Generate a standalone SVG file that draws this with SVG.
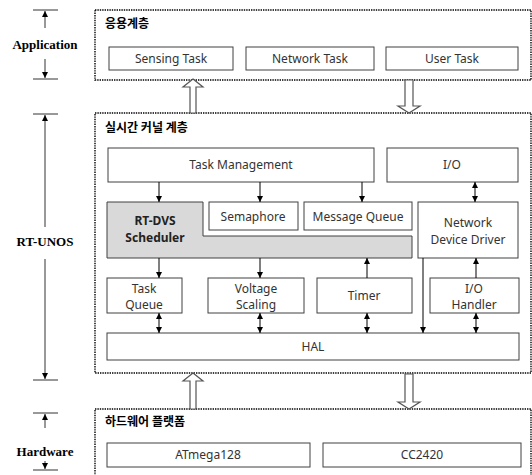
<svg xmlns="http://www.w3.org/2000/svg" width="532" height="475" viewBox="0 0 532 475">
<defs>
<marker id="ah" markerUnits="userSpaceOnUse" markerWidth="7" markerHeight="7" refX="6" refY="3" orient="auto-start-reverse" viewBox="0 0 7 6">
<path d="M0,0 L6,3 L0,6 Z" fill="#000"/>
</marker>
<style>
.cont{fill:#fff;stroke:#000;stroke-width:1.4;stroke-dasharray:1.4 1}
.box{fill:#fff;stroke:#404040;stroke-width:1}
.t{font-family:"Noto Sans","Open Sans",sans-serif;font-size:12px;fill:#333;text-anchor:middle}
.h{font-family:"Noto Sans CJK KR","Noto Sans",sans-serif;font-size:12px;font-weight:bold;fill:#000}
.b{font-family:"Noto Sans","Open Sans",sans-serif;font-size:12px;font-weight:bold;fill:#222;text-anchor:middle}
.side{font-family:"Liberation Serif","Times New Roman",serif;font-size:13px;font-weight:bold;fill:#000;text-anchor:middle}
.c{stroke:#000;stroke-width:1;fill:none}
.hol{fill:#fff;stroke:#555;stroke-width:1.2}
.sc{stroke:#333;stroke-width:1;fill:none}
</style>
</defs>
<rect width="532" height="475" fill="#fff"/>

<g id="scale">
<line class="sc" x1="33" y1="10" x2="58" y2="10"/>
<line class="sc" x1="45" y1="28" x2="45" y2="11" marker-end="url(#ah)"/>
<text class="side" x="45" y="49">Application</text>
<line class="sc" x1="45" y1="59" x2="45" y2="78" marker-end="url(#ah)"/>
<line class="sc" x1="33" y1="79" x2="58" y2="79"/>

<line class="sc" x1="33" y1="114" x2="58" y2="114"/>
<line class="sc" x1="45" y1="227" x2="45" y2="115" marker-end="url(#ah)"/>
<text class="side" x="45" y="246">RT-UNOS</text>
<line class="sc" x1="45" y1="259" x2="45" y2="379" marker-end="url(#ah)"/>
<line class="sc" x1="33" y1="380" x2="58" y2="380"/>

<line class="sc" x1="33" y1="413" x2="58" y2="413"/>
<line class="sc" x1="45" y1="428" x2="45" y2="414" marker-end="url(#ah)"/>
<text class="side" x="45" y="456">Hardware</text>
<line class="sc" x1="45" y1="461" x2="45" y2="469" marker-end="url(#ah)"/>
<line class="sc" x1="33" y1="470" x2="58" y2="470"/>
</g>

<g id="application">
<rect class="cont" x="95" y="10" width="436" height="70"/>
<text class="h" x="105" y="28">응용계층</text>
</g>
<g id="sensing-task"><rect class="box" x="109" y="47" width="124" height="23"/><text class="t" x="171" y="63">Sensing Task</text></g>
<g id="network-task"><rect class="box" x="246" y="47" width="128" height="23"/><text class="t" x="310" y="63">Network Task</text></g>
<g id="user-task"><rect class="box" x="386" y="47" width="132" height="23"/><text class="t" x="452" y="63">User Task</text></g>

<g id="kernel">
<rect class="cont" x="95" y="113" width="436" height="260"/>
<text class="h" x="105" y="132">실시간 커널 계층</text>
</g>
<g id="task-management"><rect class="box" x="108" y="148" width="266" height="34"/><text class="t" x="241" y="169">Task Management</text></g>
<g id="io"><rect class="box" x="387" y="148" width="131" height="34"/><text class="t" x="452" y="169">I/O</text></g>
<g id="rt-dvs"><path d="M107,202 H203 V236 H412 V258 H107 Z" fill="#d9d9d9" stroke="#404040" stroke-width="1"/><text class="b" x="155" y="225">RT-DVS</text><text class="b" x="155" y="242">Scheduler</text></g>
<g id="semaphore"><rect class="box" x="209" y="202" width="89" height="28"/><text class="t" x="253" y="221">Semaphore</text></g>
<g id="message-queue"><rect class="box" x="304" y="202" width="108" height="28"/><text class="t" x="358" y="221">Message Queue</text></g>
<g id="network-device-driver"><rect class="box" x="418" y="202" width="100" height="56"/><text class="t" x="468" y="227">Network</text><text class="t" x="468" y="244">Device Driver</text></g>
<g id="task-queue"><rect class="box" x="107" y="278" width="75" height="35"/><text class="t" x="144" y="293">Task</text><text class="t" x="144" y="309">Queue</text></g>
<g id="voltage-scaling"><rect class="box" x="208" y="278" width="96" height="35"/><text class="t" x="256" y="293">Voltage</text><text class="t" x="256" y="309">Scaling</text></g>
<g id="timer"><rect class="box" x="317" y="278" width="95" height="35"/><text class="t" x="364" y="300">Timer</text></g>
<g id="io-handler"><rect class="box" x="430" y="278" width="89" height="35"/><text class="t" x="474" y="293">I/O</text><text class="t" x="474" y="309">Handler</text></g>
<g id="hal"><rect class="box" x="107" y="333" width="412" height="27"/><text class="t" x="313" y="351">HAL</text></g>

<g id="hardware">
<rect class="cont" x="95" y="409" width="436" height="80"/>
<text class="h" x="105" y="426">하드웨어 플랫폼</text>
</g>
<g id="atmega128"><rect class="box" x="107" y="443" width="203" height="24"/><text class="t" x="208" y="459">ATmega128</text></g>
<g id="cc2420"><rect class="box" x="323" y="443" width="198" height="24"/><text class="t" x="422" y="459">CC2420</text></g>

<g id="connectors">
<path class="hol" d="M193,79 L203,87 L196,87 L196,113 L190,113 L190,87 L183,87 Z"/>
<path class="hol" d="M405,80 L413,80 L413,106 L420,106 L409,113 L398,106 L405,106 Z"/>
<path class="hol" d="M193,373 L203,381 L196,381 L196,409 L190,409 L190,381 L183,381 Z"/>
<path class="hol" d="M405,374 L413,374 L413,402 L420,402 L409,409 L398,402 L405,402 Z"/>

<line class="c" x1="159" y1="182" x2="159" y2="202" marker-end="url(#ah)"/>
<line class="c" x1="260" y1="182" x2="260" y2="202" marker-end="url(#ah)"/>
<line class="c" x1="362" y1="182" x2="362" y2="202" marker-end="url(#ah)"/>
<line class="c" x1="475" y1="182" x2="475" y2="202" marker-start="url(#ah)" marker-end="url(#ah)"/>
<line class="c" x1="159" y1="258" x2="159" y2="278" marker-end="url(#ah)"/>
<line class="c" x1="260" y1="258" x2="260" y2="278" marker-end="url(#ah)"/>
<line class="c" x1="367" y1="278" x2="367" y2="258" marker-end="url(#ah)"/>
<line class="c" x1="476" y1="278" x2="476" y2="258" marker-end="url(#ah)"/>
<line class="c" x1="423" y1="258" x2="423" y2="333" marker-end="url(#ah)"/>
<line class="c" x1="159" y1="313" x2="159" y2="333" marker-start="url(#ah)" marker-end="url(#ah)"/>
<line class="c" x1="260" y1="313" x2="260" y2="333" marker-start="url(#ah)" marker-end="url(#ah)"/>
<line class="c" x1="367" y1="313" x2="367" y2="333" marker-start="url(#ah)" marker-end="url(#ah)"/>
<line class="c" x1="476" y1="313" x2="476" y2="333" marker-start="url(#ah)" marker-end="url(#ah)"/>
</g>
</svg>
